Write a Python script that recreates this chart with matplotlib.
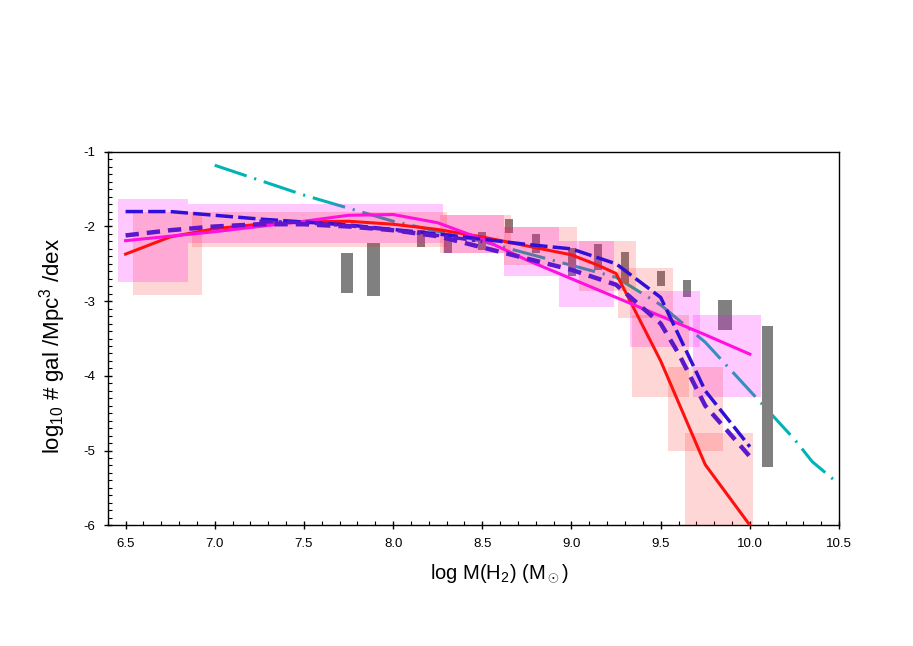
import numpy as np
import matplotlib
matplotlib.use("Agg")
import matplotlib.pyplot as plt
from matplotlib.ticker import MultipleLocator, FormatStrFormatter

plt.rcParams['font.family'] = ['Liberation Sans', 'DejaVu Sans']
plt.rcParams['mathtext.fontset'] = 'custom'
plt.rcParams['mathtext.rm'] = 'Liberation Sans'
plt.rcParams['mathtext.it'] = 'Liberation Sans'
plt.rcParams['axes.unicode_minus'] = False

# --- data ---
# red (solid) line
red_x = [6.5, 6.75, 7.0, 7.25, 7.5, 7.75, 8.0, 8.25, 8.5, 8.75, 9.0, 9.15, 9.25, 9.5, 9.75, 10.0]
red_y = [-2.37, -2.14, -2.03, -1.97, -1.94, -1.93, -1.97, -2.04, -2.14, -2.26, -2.38, -2.52, -2.63, -3.8, -5.19, -6.0]

# magenta (solid) line
mag_x = [6.5, 7.0, 7.5, 7.75, 8.0, 8.25, 8.5, 8.75, 9.0, 9.25, 9.5, 9.75, 10.0]
mag_y = [-2.19, -2.07, -1.93, -1.85, -1.84, -1.95, -2.17, -2.45, -2.70, -2.95, -3.2, -3.45, -3.71]

# blue long-dash line
blue_x = [6.5, 6.75, 7.0, 7.25, 7.5, 7.75, 8.0, 8.25, 8.5, 8.75, 9.0, 9.25, 9.5, 9.75, 10.0]
blue_y = [-1.80, -1.80, -1.85, -1.90, -1.94, -1.98, -2.04, -2.10, -2.17, -2.24, -2.30, -2.50, -2.95, -4.2, -4.95]

# purple thick dashed line
purp_x = [6.5, 6.75, 7.0, 7.25, 7.5, 7.75, 8.0, 8.25, 8.5, 8.75, 9.0, 9.25, 9.5, 9.6, 9.75, 10.0]
purp_y = [-2.12, -2.05, -2.0, -1.97, -1.97, -2.0, -2.05, -2.13, -2.28, -2.43, -2.58, -2.78, -3.3, -3.7, -4.4, -5.08]

# purple dash-dot segment
dd_x = [7.25, 7.5, 7.75, 8.0, 8.25, 8.5]
dd_y = [-1.93, -1.95, -1.99, -2.05, -2.12, -2.2]

# teal dash-dot line
teal_x = [7.0, 7.5, 8.0, 8.5, 9.0, 9.25, 9.5, 9.75, 10.0, 10.25, 10.35, 10.5]
teal_y = [-1.18, -1.58, -1.93, -2.2, -2.52, -2.68, -3.05, -3.55, -4.2, -4.85, -5.15, -5.45]

# magenta error boxes: x0, x1, y0, y1
pbox_x0 = [6.46, 6.85, 8.28, 8.62, 8.93, 9.33, 9.68]
pbox_x1 = [6.85, 8.28, 8.62, 8.93, 9.24, 9.72, 10.06]
pbox_y0 = [-2.74, -2.22, -2.35, -2.66, -3.08, -3.62, -4.28]
pbox_y1 = [-1.63, -1.70, -1.85, -2.01, -2.19, -2.87, -3.19]

# red error boxes
sbox_x0 = [6.54, 6.87, 8.26, 8.62, 9.04, 9.26, 9.34, 9.54, 9.635]
sbox_x1 = [6.93, 8.30, 8.66, 9.03, 9.36, 9.57, 9.66, 9.85, 10.02]
sbox_y0 = [-2.92, -2.28, -2.35, -2.51, -2.86, -3.23, -4.28, -5.00, -6.0]
sbox_y1 = [-1.81, -1.81, -1.85, -2.01, -2.20, -2.56, -3.19, -3.88, -4.77]

# grey bars: centre, width, low, high
gray_x = [7.74, 7.89, 8.155, 8.306, 8.50, 8.65, 8.80, 9.004, 9.15, 9.30, 9.50, 9.65, 9.86, 10.10]
gray_w = [0.07, 0.07, 0.045, 0.045, 0.045, 0.045, 0.045, 0.045, 0.045, 0.045, 0.045, 0.045, 0.075, 0.06]
gray_lo = [-2.89, -2.93, -2.28, -2.36, -2.31, -2.09, -2.36, -2.66, -2.58, -2.76, -2.80, -2.94, -3.38, -5.22]
gray_hi = [-2.35, -2.22, -2.05, -2.09, -2.07, -1.90, -2.10, -2.29, -2.24, -2.34, -2.60, -2.72, -2.98, -3.33]

fig = plt.figure(figsize=(9.13, 6.46), dpi=100)
ax = fig.add_axes([0.118, 0.187, 0.801, 0.578])

ax.plot(teal_x, teal_y, color='#00b4b4', lw=2.2, dashes=(11, 2.6, 0.7, 2.6), zorder=1)

ax.bar(gray_x, np.subtract(gray_hi, gray_lo), width=gray_w, bottom=gray_lo,
       color='#808080', edgecolor='none', zorder=2)

ax.bar(pbox_x0, np.subtract(pbox_y1, pbox_y0), width=np.subtract(pbox_x1, pbox_x0),
       bottom=pbox_y0, align='edge', color='#ff00ff', alpha=0.21, edgecolor='none', zorder=3)
ax.bar(sbox_x0, np.subtract(sbox_y1, sbox_y0), width=np.subtract(sbox_x1, sbox_x0),
       bottom=sbox_y0, align='edge', color='#ff2020', alpha=0.18, edgecolor='none', zorder=3)

ax.plot(red_x, red_y, color='#ff1010', lw=2.2, zorder=5)
ax.plot(mag_x, mag_y, color='#ff10e0', lw=2.2, zorder=5)
ax.plot(blue_x, blue_y, color='#3010d8', lw=2.5, dashes=(5, 1.5), zorder=5)
ax.plot(purp_x, purp_y, color='#5c18cc', lw=3.2, dashes=(3, 1.8), zorder=5)
ax.plot(dd_x, dd_y, color='#5c18cc', lw=2.5, dashes=(4, 1.5, 1, 1.5), zorder=5)

ax.set_xlim(6.4, 10.5)
ax.set_ylim(-6, -1)
ax.xaxis.set_major_locator(MultipleLocator(0.5))
ax.xaxis.set_minor_locator(MultipleLocator(0.1))
ax.yaxis.set_major_locator(MultipleLocator(1))
ax.yaxis.set_minor_locator(MultipleLocator(0.1))
ax.xaxis.set_major_formatter(FormatStrFormatter('%.1f'))
ax.yaxis.set_major_formatter(FormatStrFormatter('%d'))
ax.tick_params(which='major', direction='inout', length=6, width=1, labelsize=9.5, pad=6)
ax.tick_params(which='minor', direction='in', length=3, width=0.8)
for s in ax.spines.values():
    s.set_linewidth(1)

ax.set_xlabel('log M(H$_2$) (M$_\\odot$)', fontsize=14.5)
ax.xaxis.set_label_coords(0.536, -0.1)
ax.set_ylabel('log$_{10}$ # gal /Mpc$^3$ /dex', fontsize=16)
ax.yaxis.set_label_coords(-0.055, 0.48)

fig.savefig('out.png', dpi=100)
